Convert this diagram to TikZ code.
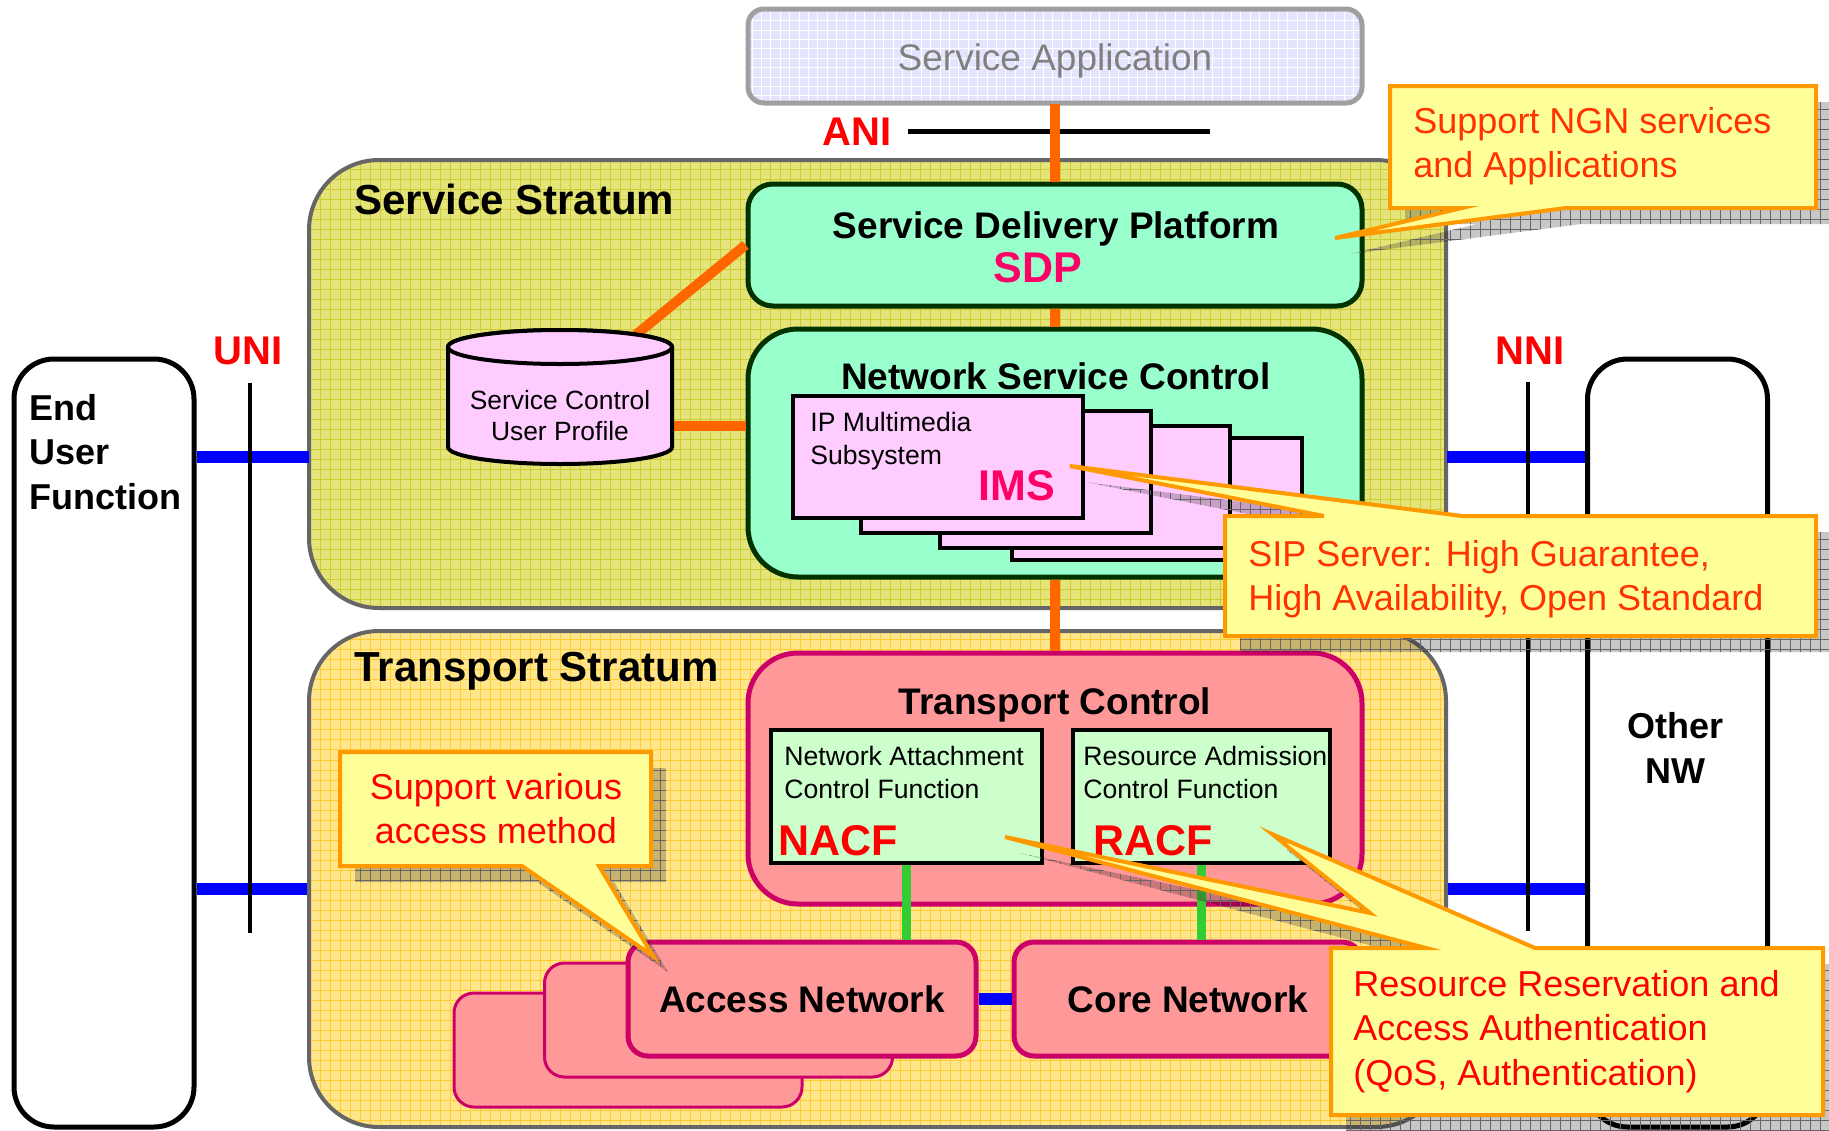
\documentclass[tikz,border=0pt]{standalone}
\usepackage{fontspec}
\setmainfont{Liberation Sans}
\usetikzlibrary{patterns.meta}

\definecolor{ssfill}{RGB}{228,228,122}
\definecolor{ssgrid}{RGB}{204,204,51}
\definecolor{tsfill}{RGB}{255,230,140}
\definecolor{tsgrid}{RGB}{255,204,51}
\definecolor{strataline}{RGB}{102,102,102}
\definecolor{appfill}{RGB}{228,228,255}
\definecolor{appline}{RGB}{160,160,160}
\definecolor{apptext}{RGB}{128,128,128}
\definecolor{mint}{RGB}{153,255,204}
\definecolor{svcline}{RGB}{0,51,0}
\definecolor{lilac}{RGB}{255,204,255}
\definecolor{salmonpink}{RGB}{255,153,153}
\definecolor{trpline}{RGB}{204,0,102}
\definecolor{paleleaf}{RGB}{204,255,204}
\definecolor{tagpink}{RGB}{255,0,102}
\definecolor{ctrlorange}{RGB}{255,102,0}
\definecolor{attachgreen}{RGB}{51,204,51}
\definecolor{notefill}{RGB}{255,255,153}
\definecolor{noteline}{RGB}{255,153,0}
\definecolor{notered}{RGB}{255,51,0}

\begin{document}
\begin{tikzpicture}[x=0.5pt,y=-0.5pt]
  \tikzstyle{txt}=[inner sep=0pt]
  \tikzstyle{headtext}=[txt,font=\fontsize{18.5}{22}\selectfont\bfseries]
  \tikzstyle{stratext}=[txt,font=\fontsize{21}{25}\selectfont\bfseries]
  \tikzstyle{tagtext}=[txt,font=\fontsize{21.5}{25}\selectfont\bfseries]
  \tikzstyle{ifacetext}=[txt,font=\fontsize{20}{24}\selectfont\bfseries,text=red]
  \tikzstyle{sidetext}=[txt,font=\fontsize{18}{22.25}\selectfont\bfseries,align=left]
  \tikzstyle{smalltext}=[txt,font=\fontsize{13.3}{16.5}\selectfont,align=left]
  \tikzstyle{notetext}=[txt,font=\fontsize{18}{22.2}\selectfont,align=left]
  \tikzstyle{stratum}=[draw=strataline,line width=2pt,rounded corners=35pt,minimum width=568.5pt]
  \tikzstyle{svcarea}=[stratum,minimum height=224pt,preaction={fill=ssfill},pattern={Hatch[angle=0,distance=5pt,line width=0.5pt]},pattern color=ssgrid]
  \tikzstyle{trparea}=[stratum,minimum height=248pt,preaction={fill=tsfill},pattern={Hatch[angle=0,distance=5pt,line width=0.5pt]},pattern color=tsgrid]
  \tikzstyle{appbox}=[draw=appline,line width=2.5pt,rounded corners=8pt,minimum width=307pt,minimum height=47pt,preaction={fill=appfill},pattern={Hatch[angle=0,distance=4.7pt,line width=0.5pt]},pattern color=white]
  \tikzstyle{svcbox}=[draw=svcline,line width=2.5pt,fill=mint,minimum width=307pt]
  \tikzstyle{imsbox}=[draw,line width=2pt,fill=lilac,minimum width=145pt,minimum height=61pt]
  \tikzstyle{trpbox}=[draw=trpline,line width=2.5pt,fill=salmonpink,rounded corners=25pt,minimum width=307pt,minimum height=125.5pt]
  \tikzstyle{fnbox}=[draw,line width=2pt,fill=paleleaf,minimum height=66.5pt]
  \tikzstyle{netbox}=[draw=trpline,line width=2.5pt,fill=salmonpink,rounded corners=10pt,minimum width=174pt,minimum height=57pt,headtext]
  \tikzstyle{netback}=[netbox,line width=1.5pt]
  \tikzstyle{sidebox}=[draw,line width=2.5pt,fill=white,rounded corners=20pt,minimum width=90pt,minimum height=384pt]
  \tikzstyle{dbshape}=[draw,line width=2pt,fill=lilac]
  \tikzstyle{iface}=[draw=black,line width=2pt]
  \tikzstyle{ctrllink}=[draw=ctrlorange,line width=5pt]
  \tikzstyle{datalink}=[draw=blue,line width=6pt]
  \tikzstyle{attachlink}=[draw=attachgreen,line width=4.5pt]
  \tikzstyle{notebox}=[draw=noteline,line width=2pt,fill=notefill]
  \tikzstyle{noteshade}=[preaction={fill=black,fill opacity=0.22},pattern={Hatch[angle=0,distance=5pt,line width=0.5pt]},pattern color=black!60,fill opacity=0.45]

  \path[use as bounding box] (0,0) rectangle (1829,1130);
  \fill[white] (0,0) rectangle (1829,1130);
  \clip (0,0) rectangle (1829,1130);

  \node[appbox] (saapp) at (1055,56) {};
  \node[txt,font=\fontsize{18.5}{22}\selectfont,text=apptext,anchor=base] (satext) at (1055,70) {Service Application};

  \node[ifacetext,anchor=base] (anilabel) at (857,145) {ANI};
  \coordinate (anil) at (908,131);
  \coordinate (anir) at (1210,131);
  \draw[iface,line width=2.5pt] (anil) -- (anir);

  \node[svcarea] (ss) at (877.5,384) {};
  \node[trparea] (ts) at (877.5,879) {};
  \node[stratext,anchor=base west] (sstitle) at (354,214) {Service Stratum};
  \node[stratext,anchor=base west] (tstitle) at (354,681) {Transport Stratum};

  \node[sidebox] (eu) at (104,743) {};
  \node[sidetext,anchor=north west] (eutext) at (29,394) {End\\User\\Function};
  \node[sidebox] (onw) at (1677.5,743) {};
  \node[sidetext,align=center,anchor=north] (onwtext) at (1675,712) {Other\\NW};

  \coordinate (uplink) at (0,457);
  \coordinate (lowlink) at (0,889);
  \draw[datalink] (eu.east |- uplink) -- (ss.west |- uplink);
  \draw[datalink] (eu.east |- lowlink) -- (ts.west |- lowlink);
  \draw[datalink] (ss.east |- uplink) -- (onw.west |- uplink);
  \draw[datalink] (ts.east |- lowlink) -- (onw.west |- lowlink);

  \node[ifacetext,anchor=base] (unilabel) at (248,364) {UNI};
  \coordinate (unitop) at (250,383);
  \coordinate (unibot) at (250,933);
  \draw[iface] (unitop) -- (unibot);

  \node[ifacetext,anchor=base] (nnilabel) at (1530,364) {NNI};
  \coordinate (nnitop) at (1528,382);
  \coordinate (nnibot) at (1528,931);
  \draw[iface] (nnitop) -- (nnibot);

  \node[svcbox,rounded corners=12.5pt,minimum height=61pt] (sdp) at (1055,245) {};
  \node[headtext,anchor=base] (sdptitle) at (1056,238) {Service Delivery Platform};
  \node[tagtext,text=tagpink,anchor=base] (sdptag) at (1038,282) {SDP};

  \node[svcbox,rounded corners=25pt,minimum height=124pt] (nsc) at (1055,453) {};
  \node[headtext,anchor=base] (nsctitle) at (1056,389) {Network Service Control};

  \node[imsbox] (ims4) at (1157,498.5) {};
  \node[imsbox] (ims3) at (1085,487) {};
  \node[imsbox] (ims2) at (1005.5,472) {};
  \node[imsbox] (ims1) at (938,457) {};
  \node[smalltext,anchor=north west] (imstext) at (810,412) {IP Multimedia\\Subsystem};
  \node[tagtext,text=tagpink,anchor=base] (imstag) at (1017,500) {IMS};

  \node[trpbox] (tc) at (1055,778.5) {};
  \node[headtext,anchor=base] (tctitle) at (1055,714) {Transport Control};

  \draw[ctrllink] (saapp.south) -- (sdp.north);
  \draw[ctrllink] (sdp.south) -- (nsc.north);
  \draw[ctrllink] (nsc.south) -- (tc.north);

  \coordinate (dbc) at (560,397);
  \coordinate (dbport) at (560,426);
  \draw[ctrllink] (dbc) -- (sdp.west);
  \draw[ctrllink] (dbport) -- (dbport -| nsc.west);

  \draw[dbshape] (448,347) -- (448,447) arc[start angle=180,end angle=360,x radius=56pt,y radius=8.5pt] -- (672,347) arc[start angle=0,end angle=180,x radius=56pt,y radius=8.5pt] -- cycle;
  \draw[dbshape] (560,347) ellipse [x radius=56pt,y radius=8.5pt];
  \node[smalltext,font=\fontsize{13.2}{15.5}\selectfont,align=center,anchor=north] (profile) at (560,390) {Service Control\\User Profile};

  \node[fnbox,minimum width=135.5pt] (nacf) at (906.5,796.5) {};
  \node[smalltext,anchor=north west] (nacftext) at (784,746) {Network Attachment\\Control Function};
  \node[tagtext,text=red,anchor=base west] (nacftag) at (778,855) {NACF};

  \node[fnbox,minimum width=128.5pt] (racf) at (1201.5,796.5) {};
  \node[smalltext,anchor=north west] (racftext) at (1083,746) {Resource Admission\\Control Function};
  \node[tagtext,text=red,anchor=base west] (racftag) at (1093,855) {RACF};

  \node[netback] (access3) at (628,1050) {};
  \node[netback] (access2) at (718.5,1020) {};
  \node[netbox] (access) at (802,999) {Access Network};
  \node[netbox] (core) at (1188,999) {Core Network};

  \draw[attachlink] (nacf.south) -- (nacf.south |- access.north);
  \draw[attachlink] (racf.south) -- (racf.south |- core.north);
  \draw[datalink] (access.east) -- (core.west);

  \path[noteshade,shift={(15,16)}] (1390,86) -- (1816,86) -- (1816,208) -- (1566,208) -- (1335,238) -- (1462,208) -- (1390,208) -- cycle;
  \draw[notebox] (1390,86) -- (1816,86) -- (1816,208) -- (1566,208) -- (1335,238) -- (1462,208) -- (1390,208) -- cycle;
  \node[notetext,text=notered,anchor=north west] (ngnnote) at (1413,107) {Support NGN services\\and Applications};

  \path[noteshade,shift={(15,16)}] (1225,516) -- (1324,516) -- (1070,466) -- (1462,516) -- (1816,516) -- (1816,636) -- (1225,636) -- cycle;
  \draw[notebox] (1225,516) -- (1324,516) -- (1070,466) -- (1462,516) -- (1816,516) -- (1816,636) -- (1225,636) -- cycle;
  \node[notetext,text=notered,anchor=north west] (sipnote) at (1248,540) {SIP Server: High Guarantee,\\High Availability, Open Standard};

  \path[noteshade,shift={(15,16)}] (340,752) -- (651,752) -- (651,866) -- (599,866) -- (653,956) -- (522,866) -- (340,866) -- cycle;
  \draw[notebox] (340,752) -- (651,752) -- (651,866) -- (599,866) -- (653,956) -- (522,866) -- (340,866) -- cycle;
  \node[notetext,text=red,align=center,anchor=north] (accessnote) at (496,773) {Support various\\access method};

  \path[noteshade,shift={(15,16)}] (1331,948) -- (1426,948) -- (1005,837) -- (1370,913) -- (1272,834) -- (1535,948) -- (1823,948) -- (1823,1115) -- (1331,1115) -- cycle;
  \draw[notebox] (1331,948) -- (1426,948) -- (1005,837) -- (1370,913) -- (1272,834) -- (1535,948) -- (1823,948) -- (1823,1115) -- (1331,1115) -- cycle;
  \node[notetext,text=red,anchor=north west] (qosnote) at (1353,970) {Resource Reservation and\\Access Authentication\\(QoS, Authentication)};
\end{tikzpicture}
\end{document}
